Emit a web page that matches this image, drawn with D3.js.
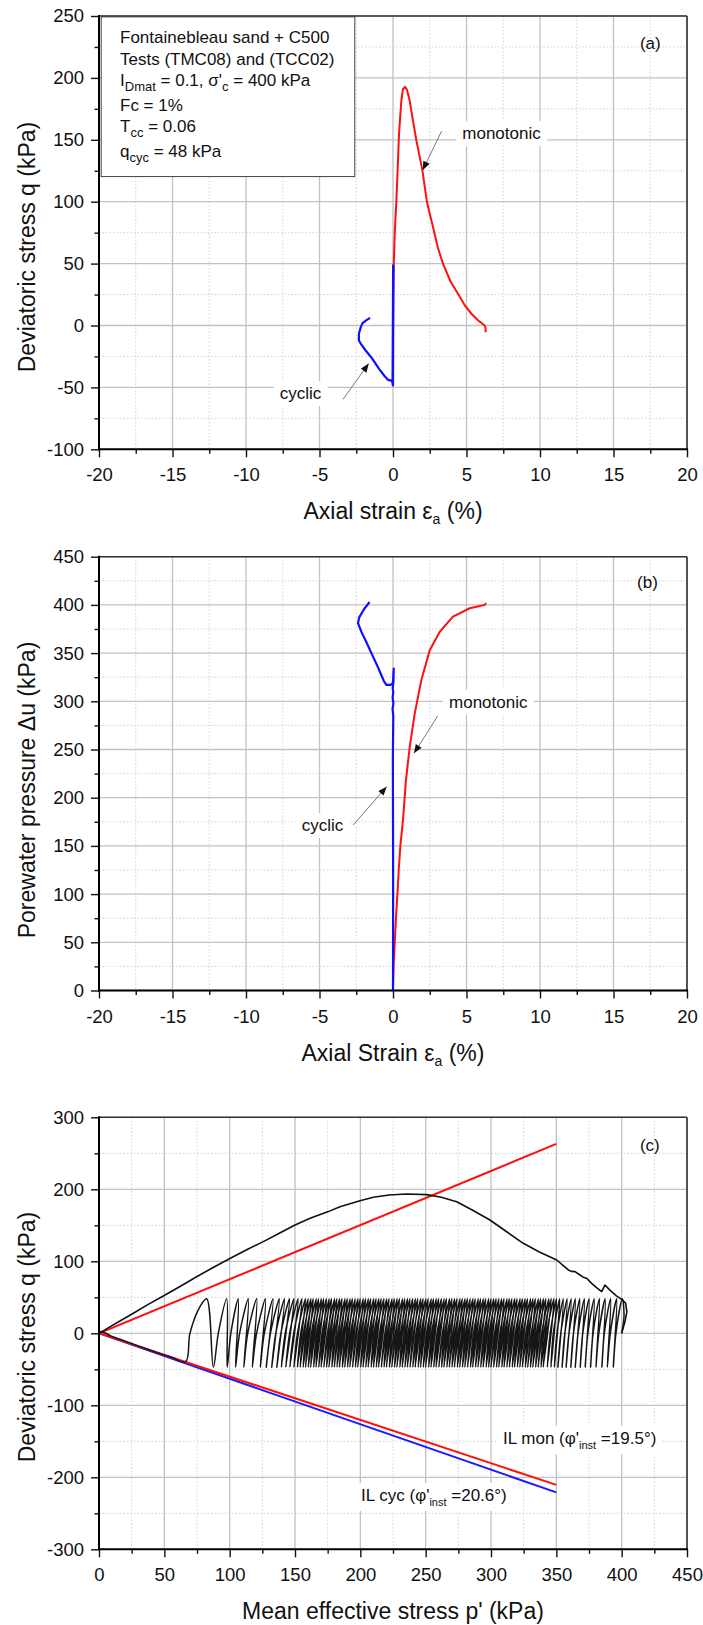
<!DOCTYPE html>
<html><head><meta charset="utf-8">
<script src="https://cdn.jsdelivr.net/npm/d3@7"></script>
<style>
body{margin:0;background:#fff;}
svg text{font-family:"Liberation Sans",Arial,sans-serif;fill:#111;}
</style></head><body>
<svg id="chart" width="703" height="1625"></svg>
<script>
// ---------------- DATA ----------------
// tick labels
const strainTicks = [-20,-15,-10,-5,0,5,10,15,20];
const strainMinor = [-17.5,-12.5,-7.5,-2.5,2.5,7.5,12.5,17.5];
const qaTicks = [-100,-50,0,50,100,150,200,250];
const qaMinor = [-75,-25,25,75,125,175,225];
const duTicks = [0,50,100,150,200,250,300,350,400,450];
const duMinor = [25,75,125,175,225,275,325,375,425];
const pTicks = [0,50,100,150,200,250,300,350,400,450];
const pMinor = [25,75,125,175,225,275,325,375,425];
const qcTicks = [-300,-200,-100,0,100,200,300];
const qcMinor = [-250,-150,-50,50,150,250];

// (a) q vs axial strain: [eps %, q kPa]
const aMonotonic = [[0,0],[0.02,25],[0.05,48.5],[0.12,75],[0.23,101],[0.33,130],[0.41,155],[0.57,182],[0.68,191],[0.82,192.6],[0.95,190.5],[1.13,181.9],[1.35,166],[1.59,149.5],[2.0,125.3],[2.31,99.7],[2.72,79.5],[3.05,63],[3.4,49.9],[3.9,36],[4.42,25.6],[4.9,16],[5.33,9.5],[5.8,4],[6.24,0],[6.3,-2],[6.3,-5.4]];
const aCyclic = [[0,0],[0.02,47.5],[-0.02,-48],[0.03,48],[0,-48.5],[0.02,47],[-0.03,-47.5],[0.01,48.5],[0,-48.5],[-0.05,-45.5],[-0.12,-44.5],[-0.34,-43.9],[-0.55,-41.2],[-0.95,-35],[-1.4,-27],[-1.86,-20.2],[-2.15,-15.5],[-2.32,-12.1],[-2.32,-6.7],[-2.2,-1.5],[-2.07,1.9],[-1.8,4.3],[-1.56,6.2]];

// (b) excess pore pressure vs axial strain: [eps %, du kPa]
const bMonotonic = [[0,0],[0.04,25],[0.12,50],[0.2,75],[0.3,100],[0.39,125],[0.5,150],[0.68,177],[0.88,218],[1.14,253],[1.48,287.5],[1.93,322],[2.5,353],[3.18,372],[4.08,387.8],[5.22,396.5],[6.24,400],[6.33,402]];
const bCyclic = [[0,0],[0.01,120],[-0.01,240],[0.02,285],[-0.03,292],[0.03,298],[-0.03,304],[0.02,309],[-0.02,314],[0.03,320],[0.05,334],[0.0,320],[-0.05,318],[-0.2,317],[-0.45,317],[-0.62,321],[-0.79,327],[-1.1,338],[-1.47,350],[-1.8,361],[-2.15,372],[-2.38,381],[-2.3,387],[-1.95,396],[-1.59,403]];

// (c) stress paths: [p' kPa, q kPa]
const cMonotonic = [[400,0],[402.5,16],[404,30],[403,42],[400,47],[396,52],[391,60],[387.2,67],[384.7,58],[381,63],[377,69.4],[373.2,76.4],[370.5,78],[368.1,81],[364.3,85.6],[361.5,86],[359.2,88],[356,93],[350.3,101.8],[337,113],[324.7,125],[312,141],[299.2,157.4],[286,171],[273.7,182.8],[262,189],[250.8,192.6],[235.5,193.5],[222,192],[209.9,188.9],[199.7,184.2],[184.4,175.9],[175.5,169],[162,160],[150,150.4],[138,139],[125.8,127.3],[113,116],[100.2,104],[87,91],[74.7,78.6],[62,65],[49.2,51.8],[37,39.5],[26.3,27.8],[16,17],[7,7.5],[2,2],[0,0]];
const cycQTop = 48, cycQBot = -47;
const cycStart = [[400,0],[401.8,24]];
// p' at each cycle's q = +48 turning point
const cycTopP = [400.5,396.2,391.6,387.4,383.0,379.0,375.1,371.5,368.0,364.6,361.4,358.3,355.4,352.6,350.2,
 348.2,346.1,344.3,342.0,340.2,338.1,336.3,334.0,332.1,330.3,328.0,326.2,324.1,322.3,320.0,318.2,316.0,314.1,312.3,310.0,308.2,306.1,304.0,302.2,300.1,298.3,296.0,294.2,292.1,290.3,288.0,286.2,284.1,282.0,280.2,278.1,276.3,274.0,272.2,270.1,268.3,266.0,264.2,262.1,260.0,258.2,256.1,254.3,252.0,250.2,248.1,246.3,244.0,242.2,240.1,238.0,236.2,234.1,232.3,230.0,228.2,226.1,224.3,222.0,220.2,218.1,216.0,214.2,212.1,210.3,208.0,206.2,204.1,202.3,200.0,198.2,196.1,194.0,192.2,190.1,188.3,186.0,184.2,182.1,180.3,178.0,176.2,174.1,172.0,170.2,168.1,166.3,164.0,162.2,160.1,
 158.0,155.3,152.4,149.2,145.8,142.0,138.0,133.2,127.4,120.7,114.3,106.6,97.7];
// p' where the unloading branch crosses q = 0
const cycDownP = [395.6,391.3,386.7,382.5,378.1,374.1,370.2,366.6,363.1,359.7,356.5,353.4,350.5,347.7,345.3,
 342.6,340.4,338.8,336.3,334.7,332.4,330.8,328.3,326.6,324.6,322.5,320.5,318.6,316.6,314.5,312.5,310.5,308.4,306.8,304.3,302.7,300.4,298.5,296.5,294.6,292.6,290.5,288.5,286.6,284.6,282.5,280.5,278.6,276.3,274.7,272.4,270.8,268.3,266.7,264.4,262.8,260.3,258.7,256.4,254.5,252.5,250.6,248.6,246.5,244.5,242.6,240.6,238.5,236.5,234.6,232.3,230.7,228.4,226.8,224.3,222.7,220.4,218.8,216.3,214.7,212.4,210.5,208.5,206.6,204.6,202.5,200.5,198.6,196.6,194.5,192.5,190.6,188.3,186.7,184.4,182.8,180.3,178.7,176.4,174.8,172.3,170.7,168.4,166.5,164.5,162.6,160.6,158.5,156.5,154.4,
 151.9,149.0,145.9,142.5,139.2,135.3,131.2,126.5,120.6,113.8,107.6,100.9,91.3];
// p' at each cycle's q = -47 turning point
const cycBotP = [393.6,389.0,384.9,380.3,376.2,372.1,368.3,364.5,361.1,357.5,354.4,351.2,348.5,345.9,343.1,
 340.0,338.3,336.1,334.2,332.0,330.2,328.1,326.3,324.0,322.1,320.2,318.0,316.3,314.1,312.2,310.0,308.3,306.0,304.2,302.1,300.0,298.2,296.3,294.0,292.2,290.1,288.2,286.0,284.3,282.1,280.0,278.2,276.1,274.3,272.0,270.2,268.1,266.3,264.0,262.2,260.1,258.0,256.2,254.1,252.3,250.0,248.2,246.1,244.3,242.0,240.2,238.1,236.0,234.2,232.1,230.3,228.0,226.2,224.1,222.3,220.0,218.2,216.1,214.0,212.2,210.1,208.3,206.0,204.2,202.1,200.3,198.0,196.2,194.1,192.0,190.2,188.1,186.3,184.0,182.2,180.1,178.3,176.0,174.2,172.1,170.0,168.2,166.1,164.3,162.0,160.2,158.1,156.3,154.0,151.9,
 149.2,146.1,143.0,139.6,136.1,132.2,128.0,123.4,117.3,110.8,104.5,98.1,87.5];
const cycEnd = [[82.4,48],[77.3,37],[69.6,0],[66.3,-39.4],[55,-33],[44,-26.5],[30,-17.5],[18.6,-10],[10,-4.5],[4.6,0.5],[1,3]];
const ilMonUpper = [[0,0],[350,263]];
const ilMonLower = [[0,0],[350,-210.5]];
const ilCycLower = [[0,0],[350,-221]];

// ---------------- DRAWING ----------------
const svg = d3.select("#chart");
const X0 = 99, X1 = 687;
const defs = svg.append("defs");
defs.append("marker").attr("id","ah").attr("viewBox","0 0 10 8").attr("refX",10).attr("refY",4)
  .attr("markerWidth",10).attr("markerHeight",7).attr("markerUnits","userSpaceOnUse").attr("orient","auto")
  .append("path").attr("d","M0,0L10,4L0,8Z").attr("fill","#111");

function panel(o, idx){
  const x = d3.scaleLinear().domain(o.xDom).range([X0, X1]);
  const y = d3.scaleLinear().domain(o.yDom).range([o.yBot, o.yTop]);
  const g = svg.append("g");
  const grid = g.append("g");
  o.xMinor.forEach(v => grid.append("line").attr("x1",x(v)).attr("x2",x(v)).attr("y1",o.yTop).attr("y2",o.yBot)
    .attr("stroke","#d2d2d2").attr("stroke-width",1).attr("stroke-dasharray","1.5,2"));
  o.yMinor.forEach(v => grid.append("line").attr("x1",X0).attr("x2",X1).attr("y1",y(v)).attr("y2",y(v))
    .attr("stroke","#d2d2d2").attr("stroke-width",1).attr("stroke-dasharray","1.5,2"));
  o.xMajor.forEach(v => grid.append("line").attr("x1",x(v)).attr("x2",x(v)).attr("y1",o.yTop).attr("y2",o.yBot)
    .attr("stroke","#c2c2c2").attr("stroke-width",1.3));
  o.yMajor.forEach(v => grid.append("line").attr("x1",X0).attr("x2",X1).attr("y1",y(v)).attr("y2",y(v))
    .attr("stroke","#c2c2c2").attr("stroke-width",1.3));

  const fmt = d => String(d);
  const styleAxis = a => {
    a.select(".domain").remove();
    a.selectAll(".tick line").attr("stroke","#111").attr("stroke-width",1.4);
    a.selectAll(".tick text").attr("font-size",18.5).attr("fill","#111")
      .attr("font-family","Liberation Sans, Arial, sans-serif");
  };
  g.append("g").attr("transform",`translate(0,${o.yBot})`)
    .call(d3.axisBottom(x).tickValues(o.xMajor).tickSize(8).tickPadding(11).tickFormat(fmt)).call(styleAxis);
  g.append("g").attr("transform",`translate(0,${o.yBot})`)
    .call(d3.axisBottom(x).tickValues(o.xMinor).tickSize(4.5).tickFormat("")).call(styleAxis);
  g.append("g").attr("transform",`translate(${X0},0)`)
    .call(d3.axisLeft(y).tickValues(o.yMajor).tickSize(8).tickPadding(7).tickFormat(fmt)).call(styleAxis);
  g.append("g").attr("transform",`translate(${X0},0)`)
    .call(d3.axisLeft(y).tickValues(o.yMinor).tickSize(4.5).tickFormat("")).call(styleAxis);

  defs.append("clipPath").attr("id","clip"+idx).append("rect")
    .attr("x",X0).attr("y",o.yTop).attr("width",X1-X0).attr("height",o.yBot-o.yTop);
  const data = g.append("g").attr("clip-path",`url(#clip${idx})`);
  const over = g.append("g");

  const frame = g.append("g");
  frame.append("line").attr("x1",X0).attr("x2",X1).attr("y1",o.yTop).attr("y2",o.yTop).attr("stroke","#333").attr("stroke-width",1.6);
  frame.append("line").attr("x1",X1).attr("x2",X1).attr("y1",o.yTop).attr("y2",o.yBot).attr("stroke","#333").attr("stroke-width",1.6);
  frame.append("line").attr("x1",X0).attr("x2",X0).attr("y1",o.yTop-1).attr("y2",o.yBot+1).attr("stroke","#000").attr("stroke-width",2);
  frame.append("line").attr("x1",X0-1).attr("x2",X1+1).attr("y1",o.yBot).attr("y2",o.yBot).attr("stroke","#000").attr("stroke-width",2);

  const xt = g.append("text").attr("x",(X0+X1)/2).attr("y",o.yBot+70).attr("text-anchor","middle").attr("font-size",23);
  o.xTitle(xt);
  const yt = g.append("text").attr("transform",`translate(35,${o.yTitleC}) rotate(-90)`).attr("text-anchor","middle").attr("font-size",23);
  o.yTitle(yt);
  return {x,y,data,over};
}

function label(P, gx, gy, build, pad){
  const t = P.over.append("text").attr("x",gx).attr("y",gy).attr("font-size",17);
  build(t);
  const bb = t.node().getBBox();
  P.over.insert("rect","text").attr("x",bb.x-pad).attr("y",bb.y-3).attr("width",bb.width+2*pad).attr("height",bb.height+6).attr("fill","#fff");
  return t;
}
function arrow(P, from, to){
  P.over.append("line").attr("x1",P.x(from[0])).attr("y1",P.y(from[1])).attr("x2",P.x(to[0])).attr("y2",P.y(to[1]))
    .attr("stroke","#666").attr("stroke-width",0.9).attr("marker-end","url(#ah)");
}

// ---------- Panel (a) ----------
const A = panel({xDom:[-20,20], yDom:[-100,250], yTop:16, yBot:449.3,
  xMajor:strainTicks, xMinor:strainMinor, yMajor:qaTicks, yMinor:qaMinor, yTitleC:247,
  xTitle:t=>{ t.append("tspan").text("Axial strain \u03B5"); t.append("tspan").attr("font-size",14).attr("dy",5).text("a"); t.append("tspan").attr("dy",-5).text(" (%)"); },
  yTitle:t=>t.text("Deviatoric stress q (kPa)")}, 0);
const lineA = d3.line().x(d=>A.x(d[0])).y(d=>A.y(d[1]));
A.data.append("path").datum(aMonotonic).attr("d",lineA).attr("fill","none").attr("stroke","#ff1010").attr("stroke-width",2);
A.data.append("path").datum(aCyclic).attr("d",lineA).attr("fill","none").attr("stroke","#1010ff").attr("stroke-width",2.2).attr("stroke-linejoin","round");

{
  const bx0 = A.x(-19.85), bx1 = A.x(-2.6), by0 = A.y(249.3), by1 = A.y(120.3);
  A.over.append("rect").attr("x",bx0).attr("y",by0).attr("width",bx1-bx0).attr("height",by1-by0)
    .attr("fill","#fff").attr("stroke","#444").attr("stroke-width",1);
  const tx = A.x(-18.57);
  const mk = (q) => A.over.append("text").attr("x",tx).attr("y",A.y(q)).attr("font-size",17);
  mk(228.2).text("Fontainebleau sand + C500");
  mk(210.4).text("Tests (TMC08) and (TCC02)");
  { const t = mk(193.4); t.append("tspan").text("I"); t.append("tspan").attr("font-size",13).attr("dy",5).text("Dmat");
    t.append("tspan").attr("dy",-5).text(" = 0.1, \u03C3'"); t.append("tspan").attr("font-size",13).attr("dy",5).text("c");
    t.append("tspan").attr("dy",-5).text(" = 400 kPa"); }
  mk(173.2).text("Fc = 1%");
  { const t = mk(156.2); t.append("tspan").text("T"); t.append("tspan").attr("font-size",13).attr("dy",5).text("cc");
    t.append("tspan").attr("dy",-5).text(" = 0.06"); }
  { const t = mk(136.0); t.append("tspan").text("q"); t.append("tspan").attr("font-size",13).attr("dy",5).text("cyc");
    t.append("tspan").attr("dy",-5).text(" = 48 kPa"); }
}
A.over.append("text").attr("x",A.x(16.8)).attr("y",A.y(223.3)).attr("font-size",17).text("(a)");
label(A, A.x(7.38), A.y(155.4)+6, t=>t.attr("text-anchor","middle").text("monotonic"), 6);
arrow(A, [3.31,157.1], [2.02,125.5]);
label(A, A.x(-6.29), A.y(-54.5)+6, t=>t.attr("text-anchor","middle").text("cyclic"), 6);
arrow(A, [-3.4,-59.6], [-1.65,-30.7]);

// ---------- Panel (b) ----------
const B = panel({xDom:[-20,20], yDom:[0,450], yTop:556.7, yBot:990.5,
  xMajor:strainTicks, xMinor:strainMinor, yMajor:duTicks, yMinor:duMinor, yTitleC:790,
  xTitle:t=>{ t.append("tspan").text("Axial Strain \u03B5"); t.append("tspan").attr("font-size",14).attr("dy",5).text("a"); t.append("tspan").attr("dy",-5).text(" (%)"); },
  yTitle:t=>t.text("Porewater pressure \u0394u (kPa)")}, 1);
const lineB = d3.line().x(d=>B.x(d[0])).y(d=>B.y(d[1]));
B.data.append("path").datum(bMonotonic).attr("d",lineB).attr("fill","none").attr("stroke","#ff1010").attr("stroke-width",2);
B.data.append("path").datum(bCyclic).attr("d",lineB).attr("fill","none").attr("stroke","#1010ff").attr("stroke-width",2.2).attr("stroke-linejoin","round");
B.over.append("text").attr("x",B.x(16.6)).attr("y",B.y(417.5)).attr("font-size",17).text("(b)");
label(B, B.x(6.48), B.y(299.6)+6, t=>t.attr("text-anchor","middle").text("monotonic"), 6);
arrow(B, [3.04,284.8], [1.43,246]);
label(B, B.x(-4.8), B.y(171.7)+6, t=>t.attr("text-anchor","middle").text("cyclic"), 6);
arrow(B, [-2.7,171.7], [-0.43,211.4]);

// ---------- Panel (c) ----------
const C = panel({xDom:[0,450], yDom:[-300,300], yTop:1117.3, yBot:1549.3,
  xMajor:pTicks, xMinor:pMinor, yMajor:qcTicks, yMinor:qcMinor, yTitleC:1337,
  xTitle:t=>t.text("Mean effective stress p' (kPa)"),
  yTitle:t=>t.text("Deviatoric stress q (kPa)")}, 2);
const lineC = d3.line().x(d=>C.x(d[0])).y(d=>C.y(d[1]));
const lineCsmooth = d3.line().x(d=>C.x(d[0])).y(d=>C.y(d[1])).curve(d3.curveCatmullRom.alpha(0.5));
C.data.append("path").datum(ilCycLower).attr("d",lineC).attr("fill","none").attr("stroke","#1a1aff").attr("stroke-width",2);
C.data.append("path").datum(ilMonLower).attr("d",lineC).attr("fill","none").attr("stroke","#ff1010").attr("stroke-width",2);
C.data.append("path").datum(ilMonUpper).attr("d",lineC).attr("fill","none").attr("stroke","#ff1010").attr("stroke-width",2);
{
  const pts = cycStart.slice();
  for(let k=0;k<cycTopP.length;k++){
    pts.push([cycTopP[k],cycQTop]);
    pts.push([cycDownP[k],0]);
    pts.push([cycBotP[k],cycQBot]);
  }
  cycEnd.forEach(d=>pts.push(d));
  C.data.append("path").datum(pts).attr("d",lineCsmooth).attr("fill","none").attr("stroke","#151515").attr("stroke-width",1.5).attr("stroke-linejoin","round");
}
C.data.append("path").datum(cMonotonic).attr("d",lineC).attr("fill","none").attr("stroke","#111").attr("stroke-width",1.6).attr("stroke-linejoin","round");
C.over.append("text").attr("x",C.x(414)).attr("y",C.y(253)).attr("font-size",17).text("(c)");
label(C, C.x(309.2), C.y(-153.8), t=>{ t.append("tspan").text("IL mon (\u03C6'"); t.append("tspan").attr("font-size",11).attr("dy",5).text("inst");
  t.append("tspan").attr("dy",-5).text(" =19.5\u00B0)"); }, 6);
label(C, C.x(200.5), C.y(-232.9), t=>{ t.append("tspan").text("IL cyc (\u03C6'"); t.append("tspan").attr("font-size",11).attr("dy",5).text("inst");
  t.append("tspan").attr("dy",-5).text(" =20.6\u00B0)"); }, 6);
</script></body></html>
